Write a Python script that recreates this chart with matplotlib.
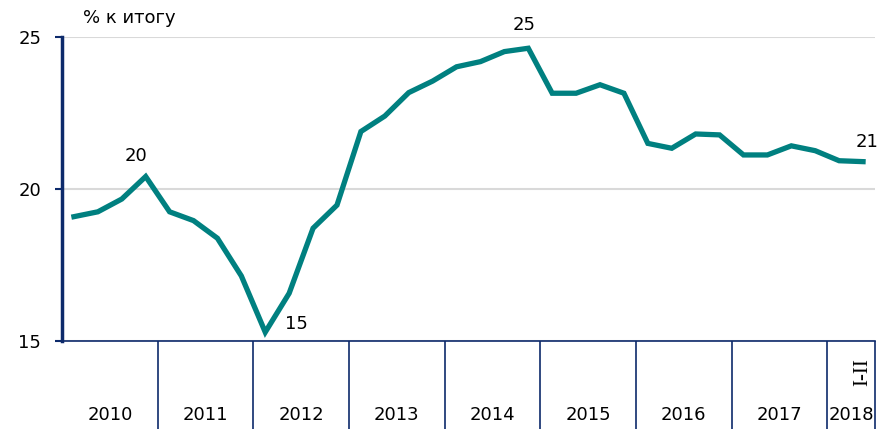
import numpy as np
import matplotlib
matplotlib.use('Agg')
import matplotlib.pyplot as plt
import matplotlib.transforms as mtransforms

# Share, % of total (quarterly 2010-2017, then Jan-Feb 2018)
values = [19.09, 19.25, 19.67, 20.41,
          19.25, 18.96, 18.38, 17.14,
          15.29, 16.57, 18.71, 19.47,
          21.89, 22.40, 23.17, 23.55,
          24.02, 24.19, 24.52, 24.63,
          23.15, 23.15, 23.43, 23.15,
          21.50, 21.34, 21.81, 21.78,
          21.12, 21.12, 21.42, 21.26,
          20.93, 20.90]
years = ['2010', '2011', '2012', '2013', '2014', '2015', '2016', '2017', '2018']
periods_per_year = [4, 4, 4, 4, 4, 4, 4, 4, 2]
last_period_label = 'I-II'

# labelled points: index -> text
point_labels = {3: '20', 8: '15', 19: '25', 33: '21'}

navy = '#0D2A6B'
teal = '#008080'

plt.rcParams['font.family'] = ['DejaVu Sans']

fig = plt.figure(figsize=(8.83, 4.29), dpi=100)
ax = fig.add_axes([62 / 883, 88 / 429, 813 / 883, 304 / 429])

x = np.arange(len(values))
ax.plot(x, values, color=teal, linewidth=3.8, solid_joinstyle='miter', zorder=3)

ax.set_xlim(-0.5, len(values) - 0.5)
ax.set_ylim(15, 25)
ax.set_yticks([15, 20, 25])
ax.tick_params(axis='y', labelsize=13, length=5, width=1.5, color=navy, pad=10)
ax.yaxis.grid(True, color='#D9D9D9', linewidth=1.5)
ax.set_axisbelow(True)

for s in ['top', 'right']:
    ax.spines[s].set_visible(False)
ax.spines['left'].set_color(navy)
ax.spines['left'].set_linewidth(2.5)
ax.spines['bottom'].set_color(navy)
ax.spines['bottom'].set_linewidth(1.2)

# year boundaries as long downward ticks
bounds = np.concatenate([[0], np.cumsum(periods_per_year)]) - 0.5
centers = (bounds[:-1] + bounds[1:]) / 2
ax.set_xticks(bounds[1:], minor=True)
ax.tick_params(axis='x', which='minor', direction='out', length=64,
               width=1.2, color=navy)
ax.tick_params(axis='x', which='major', length=0)
ax.set_xticks([])

trans = mtransforms.blended_transform_factory(ax.transData, ax.transAxes)
for c, yr in zip(centers, years):
    ax.text(c, -0.245, yr, transform=trans, ha='center', va='center', fontsize=13)
ax.text(x[-1], -0.102, last_period_label, transform=trans, ha='center', va='center',
        rotation=90, fontsize=15, family='Liberation Serif')

# point labels
offsets = {3: (-7, 8, 'center', 'bottom'), 8: (14, 6, 'left', 'center'),
           19: (-3, 10, 'center', 'bottom'), 33: (3, 8, 'center', 'bottom')}
for i, txt in point_labels.items():
    dx, dy, ha, va = offsets[i]
    ax.annotate(txt, (x[i], values[i]), xytext=(dx, dy), textcoords='offset points',
                ha=ha, va=va, fontsize=13)

fig.text(83 / 883, 1 - 18 / 429, '% к итогу', ha='left', va='center', fontsize=13)

fig.savefig('out.png', dpi=100)
